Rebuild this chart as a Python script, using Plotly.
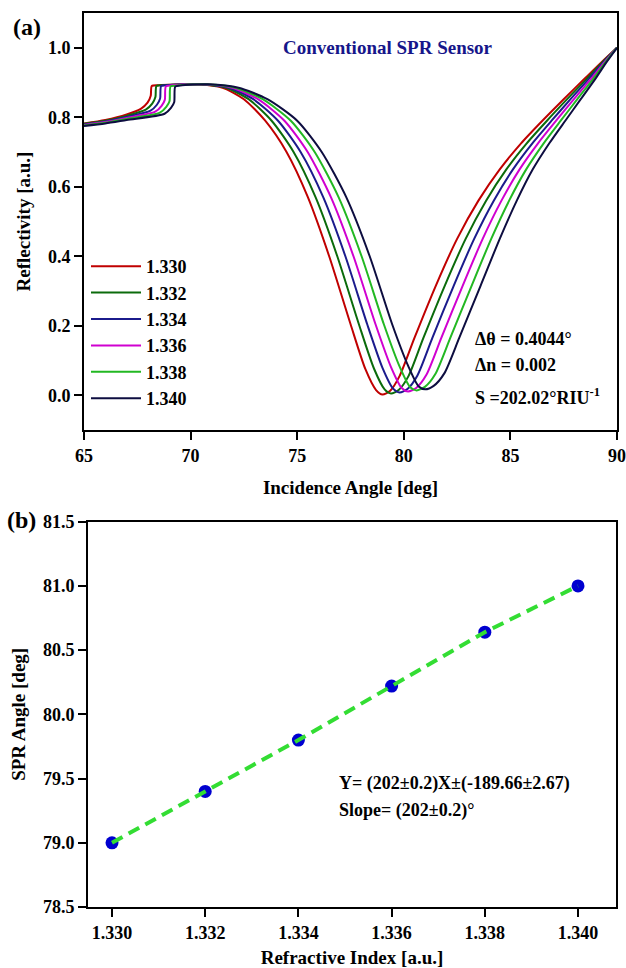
import plotly.graph_objects as go

# ---------------- Data: panel (a) ----------------
ri_labels = ["1.330", "1.332", "1.334", "1.336", "1.338", "1.340"]
curve_colors = ["#c00000", "#0b6b0b", "#1b1b8c", "#d000d0", "#22b822", "#0d0d40"]

angle_1330 = [65, 66, 67, 67.68, 67.98, 68.13, 68.18, 68.5, 69.3, 70.3,
              71.5, 72.5, 73.5, 74.5, 75.5, 76.5, 77.5, 78.2, 78.7, 79.0,
              79.35, 79.8, 80.5, 81.5, 82.5, 83.5, 84.5, 85.5, 86.5, 87.5, 88.5, 89.3, 90]
refl_1330 = [0.782, 0.792, 0.808, 0.825, 0.842, 0.862, 0.890, 0.892, 0.894, 0.895,
             0.885, 0.852, 0.790, 0.700, 0.570, 0.400, 0.205, 0.075, 0.015, 0.002,
             0.012, 0.055, 0.165, 0.315, 0.450, 0.560, 0.650, 0.725, 0.790, 0.852, 0.912, 0.960, 1.0]

angle_1332 = [65, 66, 67, 67.90, 68.20, 68.35, 68.40, 68.7, 69.4, 70.4,
              71.65, 72.72, 73.8, 74.83, 75.86, 76.88, 77.89, 78.6, 79.1, 79.4,
              79.76, 80.22, 80.92, 81.92, 82.90, 83.86, 84.81, 85.765, 86.715, 87.66, 88.60, 89.345, 90]
refl_1332 = [0.781, 0.790, 0.804, 0.822, 0.839, 0.858, 0.890, 0.892, 0.894, 0.895,
             0.885, 0.852, 0.790, 0.700, 0.570, 0.400, 0.205, 0.077, 0.017, 0.005,
             0.015, 0.055, 0.165, 0.315, 0.450, 0.560, 0.650, 0.725, 0.790, 0.852, 0.912, 0.960, 1.0]

angle_1334 = [65, 66, 67, 68.12, 68.42, 68.57, 68.62, 68.9, 69.5, 70.5,
              71.8, 72.94, 74.1, 75.16, 76.22, 77.26, 78.28, 79.0, 79.5, 79.8,
              80.17, 80.64, 81.34, 82.34, 83.30, 84.22, 85.12, 86.03, 86.93, 87.82, 88.70, 89.39, 90]
refl_1334 = [0.779, 0.788, 0.801, 0.819, 0.836, 0.854, 0.890, 0.892, 0.894, 0.895,
             0.885, 0.852, 0.790, 0.700, 0.570, 0.400, 0.205, 0.079, 0.019, 0.008,
             0.018, 0.057, 0.165, 0.315, 0.450, 0.560, 0.650, 0.725, 0.790, 0.852, 0.912, 0.960, 1.0]

angle_1336 = [65, 66, 67, 68.34, 68.64, 68.79, 68.84, 69.1, 69.7, 70.6,
              71.95, 73.16, 74.4, 75.49, 76.58, 77.64, 78.67, 79.4, 79.9, 80.2,
              80.58, 81.06, 81.76, 82.76, 83.70, 84.58, 85.43, 86.295, 87.145, 87.98, 88.80, 89.435, 90]
refl_1336 = [0.778, 0.786, 0.798, 0.816, 0.833, 0.850, 0.889, 0.892, 0.894, 0.895,
             0.885, 0.852, 0.790, 0.700, 0.570, 0.400, 0.205, 0.081, 0.021, 0.011,
             0.021, 0.059, 0.165, 0.315, 0.450, 0.560, 0.650, 0.725, 0.790, 0.852, 0.912, 0.960, 1.0]

angle_1338 = [65, 66, 67, 68.56, 68.86, 69.01, 69.06, 69.3, 69.9, 70.7,
              72.1, 73.38, 74.7, 75.82, 76.94, 78.02, 79.06, 79.8, 80.3, 80.6,
              80.99, 81.48, 82.18, 83.18, 84.10, 84.94, 85.74, 86.56, 87.36, 88.14, 88.90, 89.48, 90]
refl_1338 = [0.776, 0.784, 0.795, 0.813, 0.830, 0.846, 0.889, 0.891, 0.894, 0.895,
             0.885, 0.852, 0.790, 0.700, 0.570, 0.400, 0.205, 0.083, 0.023, 0.014,
             0.024, 0.061, 0.165, 0.315, 0.450, 0.560, 0.650, 0.725, 0.790, 0.852, 0.912, 0.960, 1.0]

angle_1340 = [65, 66, 67, 68.78, 69.08, 69.23, 69.28, 69.5, 70.1, 70.8,
              72.25, 73.6, 75.0, 76.15, 77.3, 78.4, 79.45, 80.2, 80.7, 81.0,
              81.40, 81.90, 82.60, 83.60, 84.50, 85.30, 86.05, 86.825, 87.575, 88.30, 89.00, 89.525, 90]
refl_1340 = [0.775, 0.782, 0.792, 0.810, 0.827, 0.843, 0.888, 0.891, 0.894, 0.895,
             0.885, 0.852, 0.790, 0.700, 0.570, 0.400, 0.205, 0.085, 0.025, 0.017,
             0.027, 0.063, 0.165, 0.315, 0.450, 0.560, 0.650, 0.725, 0.790, 0.852, 0.912, 0.960, 1.0]

angles = [angle_1330, angle_1332, angle_1334, angle_1336, angle_1338, angle_1340]
refls = [refl_1330, refl_1332, refl_1334, refl_1336, refl_1338, refl_1340]

# ---------------- Data: panel (b) ----------------
refractive_index = [1.330, 1.332, 1.334, 1.336, 1.338, 1.340]
spr_angle = [79.0, 79.4, 79.8, 80.22, 80.64, 81.0]

FONT = "Liberation Serif"

fig = go.Figure()

for lab, col, xs, ys in zip(ri_labels, curve_colors, angles, refls):
    fig.add_trace(go.Scatter(
        x=xs, y=ys, mode="lines", name=lab,
        line=dict(color=col, width=2, shape="spline", smoothing=0.7),
        xaxis="x", yaxis="y"))

fig.add_trace(go.Scatter(
    x=refractive_index, y=spr_angle, mode="markers", showlegend=False,
    marker=dict(color="#0000d0", size=13), xaxis="x2", yaxis="y2"))
fig.add_trace(go.Scatter(
    x=refractive_index, y=spr_angle, mode="lines", showlegend=False,
    line=dict(color="#33dd33", width=4, dash="12px,7px"), xaxis="x2", yaxis="y2"))

axis_common = dict(
    showline=True, linecolor="black", linewidth=2, mirror=True,
    ticks="outside", ticklen=8, tickwidth=2, tickcolor="black",
    showgrid=False, zeroline=False, automargin=False,
    tickfont=dict(family=FONT, size=18, color="black", weight="bold"),
)

fig.update_layout(
    width=626, height=968,
    margin=dict(l=0, r=0, t=0, b=0, autoexpand=False),
    paper_bgcolor="white", plot_bgcolor="white",
    font=dict(family=FONT, color="black"),
    xaxis=dict(domain=[84/626, 617/626], range=[65, 90], tick0=65, dtick=5,
               anchor="y",
               title=dict(text="Incidence Angle [deg]", standoff=16,
                          font=dict(family=FONT, size=19, weight="bold")),
               **axis_common),
    yaxis=dict(domain=[1-430/968, 1-13/968], range=[-0.1, 1.1], tick0=0, dtick=0.2,
               tickformat=".1f", anchor="x",
               title=dict(text="Reflectivity [a.u.]", standoff=12,
                          font=dict(family=FONT, size=19, weight="bold")),
               **axis_common),
    xaxis2=dict(domain=[88/626, 616/626], range=[1.329485, 1.340815],
                tick0=1.330, dtick=0.002, tickformat=".3f", anchor="y2",
                title=dict(text="Refractive Index [a.u.]", standoff=10,
                           font=dict(family=FONT, size=19, weight="bold")),
                **axis_common),
    yaxis2=dict(domain=[1-907/968, 1-521.7/968], range=[78.5, 81.5], tick0=78.5, dtick=0.5,
                tickformat=".1f", anchor="x2",
                title=dict(text="SPR Angle [deg]", standoff=12,
                           font=dict(family=FONT, size=19, weight="bold")),
                **axis_common),
    legend=dict(x=86/626, y=1-248/968, xanchor="left", yanchor="top",
                bgcolor="rgba(0,0,0,0)", tracegroupgap=0, itemwidth=50,
                font=dict(family=FONT, size=18, color="black", weight="bold")),
    showlegend=True,
)

annots = [
    dict(text="Conventional SPR Sensor", x=79.24, y=1.0, xref="x", yref="y",
         showarrow=False, font=dict(family=FONT, size=19, color="#16168a", weight="bold")),
    dict(text="Δθ = 0.4044°", x=83.25, y=0.162, xref="x", yref="y", xanchor="left",
         showarrow=False, font=dict(family=FONT, size=18, weight="bold")),
    dict(text="Δn = 0.002", x=83.25, y=0.087, xref="x", yref="y", xanchor="left",
         showarrow=False, font=dict(family=FONT, size=18, weight="bold")),
    dict(text="S =202.02°RIU<sup>-1</sup>", x=83.25, y=-0.005, xref="x", yref="y", xanchor="left",
         showarrow=False, font=dict(family=FONT, size=18, weight="bold")),
    dict(text="Y= (202±0.2)X±(-189.66±2.67)", x=1.33483, y=79.465, xref="x2", yref="y2",
         xanchor="left", showarrow=False, font=dict(family=FONT, size=18, weight="bold")),
    dict(text="Slope= (202±0.2)°", x=1.33483, y=79.25, xref="x2", yref="y2",
         xanchor="left", showarrow=False, font=dict(family=FONT, size=18, weight="bold")),
    dict(text="(a)", x=27/626, y=1-27/968, xref="paper", yref="paper",
         xanchor="center", yanchor="middle",
         showarrow=False, font=dict(family=FONT, size=24, weight="bold")),
    dict(text="(b)", x=21/626, y=1-520/968, xref="paper", yref="paper",
         xanchor="center", yanchor="middle",
         showarrow=False, font=dict(family=FONT, size=24, weight="bold")),
]
fig.update_layout(annotations=annots)

fig.write_html("out.html", post_script="document.body.style.margin='0';",
               config={"displayModeBar": False})
